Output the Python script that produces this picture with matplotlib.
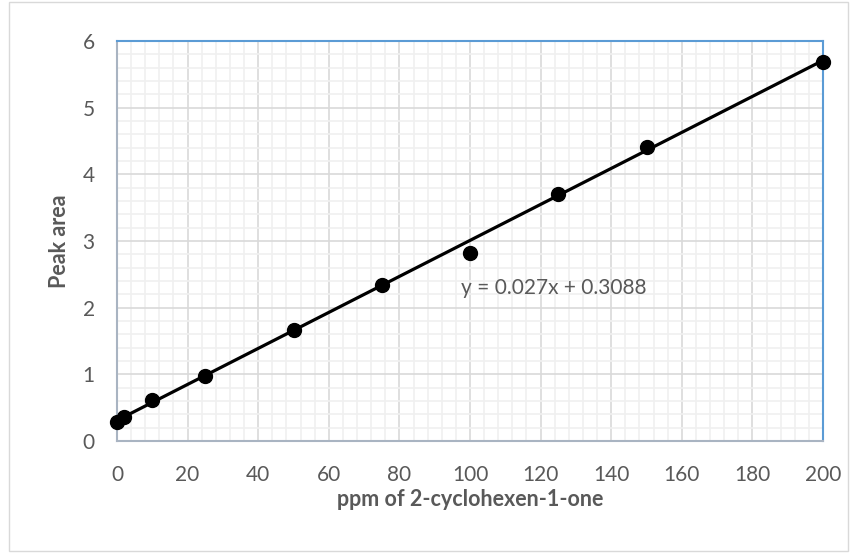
import matplotlib
matplotlib.use("Agg")
import matplotlib.pyplot as plt
import numpy as np
from matplotlib.ticker import MultipleLocator
from matplotlib.patches import Rectangle

# calibration data
ppm = [0, 2, 10, 25, 50, 75, 100, 125, 150, 200]
peak_area = [0.29, 0.365, 0.615, 0.975, 1.665, 2.34, 2.82, 3.705, 4.41, 5.69]

slope = 0.027
intercept = 0.3088
fit_x = [0, 200]

plt.rcParams['font.family'] = ['Lato', 'DejaVu Sans']

fig = plt.figure(figsize=(8.57, 5.53), dpi=100)
ax = fig.add_axes([117 / 857, 1 - 441 / 553, (823 - 117) / 857, (441 - 41) / 553])

# outer chart border
fig.patches.append(Rectangle((9 / 857, 2 / 553), 1 - 18 / 857, 1 - 4 / 553,
                             transform=fig.transFigure, fill=False,
                             edgecolor='#d9d9d9', linewidth=1))

fx = np.array(fit_x)
ax.plot(fx, slope * fx + intercept, color='black', linewidth=2.3, zorder=3)
ax.plot(ppm, peak_area, 'o', color='black', markersize=10, zorder=4, clip_on=False)

ax.set_xlim(0, 200)
ax.set_ylim(0, 6)
ax.xaxis.set_major_locator(MultipleLocator(20))
ax.xaxis.set_minor_locator(MultipleLocator(4))
ax.yaxis.set_major_locator(MultipleLocator(1))
ax.yaxis.set_minor_locator(MultipleLocator(0.2))
ax.grid(which='major', color='#d9d9d9', linewidth=1.2)
ax.grid(which='minor', color='#f0f0f0', linewidth=1.2)
ax.set_axisbelow(True)

ax.tick_params(which='both', length=0, labelsize=15, labelcolor='#595959')
ax.tick_params(axis='x', pad=17)
ax.tick_params(axis='y', pad=16)

ax.spines['top'].set_color('#5b9bd5')
ax.spines['right'].set_color('#5b9bd5')
ax.spines['left'].set_color('#a9b4c2')
ax.spines['bottom'].set_color('#a9b4c2')
for s in ax.spines.values():
    s.set_linewidth(1.5)

ax.set_xlabel('ppm of 2-cyclohexen-1-one', fontsize=15.5, fontweight='bold',
              color='#595959', va='center')
ax.set_ylabel('Peak area', fontsize=15.5, fontweight='bold', color='#595959',
              va='center')
ax.xaxis.set_label_coords(0.5, (441 - 500) / 400)
ax.yaxis.set_label_coords((60 - 117) / 706, 0.5)

ax.text(97.5, 2.3, 'y = 0.027x + 0.3088', fontsize=15, color='#595959',
        va='center', ha='left')

fig.savefig('out.png', dpi=100)
